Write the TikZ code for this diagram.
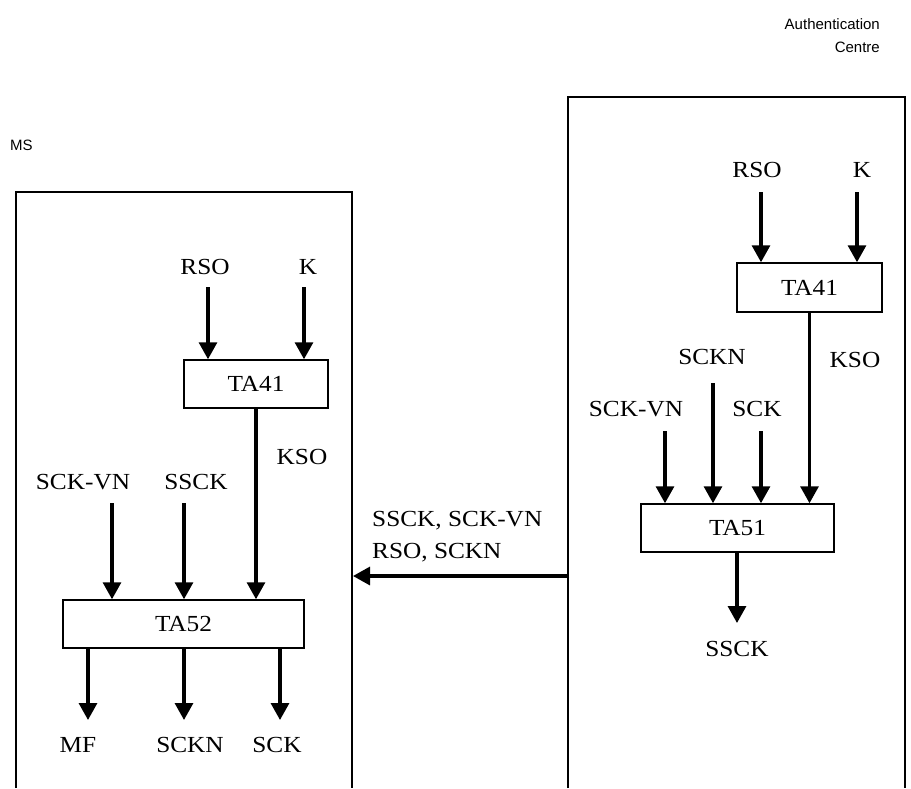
\documentclass[tikz,border=0pt]{standalone}
\usepackage{fontspec}
\usetikzlibrary{arrows.meta}
\newfontfamily\labserif[FakeStretch=1.1]{Liberation Serif}
\newfontfamily\labsans{Liberation Sans}
\tikzset{
  lab/.style={font=\labserif\fontsize{23}{32}\selectfont, inner sep=0pt},
  sanslabel/.style={font=\labsans\fontsize{15}{23}\selectfont, inner sep=0pt},
  fnbox/.style={draw, line width=1.5pt, fill=white, font=\labserif\fontsize{23}{32}\selectfont, inner sep=0pt},
  arr/.style={line width=3.2pt, -{Triangle[width=18pt,length=17pt]}},
  frameline/.style={line width=1.5pt}
}
\begin{document}
\begin{tikzpicture}[x=1pt,y=-1pt]
\useasboundingbox[fill=white] (0,0) rectangle (911,788);
% containers
\draw[frameline] (16,788) -- (16,192) -- (352,192) -- (352,788);
\draw[frameline] (568,788) -- (568,97) -- (905,97) -- (905,788);
\node[sanslabel, anchor=west] (ms) at (10,145) {MS};
\node[sanslabel, anchor=east, align=right] (ac) at (880,35.5) {Authentication\\Centre};
% ---- MS side ----
\node[lab] (rsoA) at (205,267) {RSO};
\node[lab] (kA) at (308,267) {K};
\coordinate (rsoAs) at (208,287);
\coordinate (kAs) at (304,287);
\node[fnbox, minimum width=144pt, minimum height=48pt] (ta41A) at (256,384) {TA41};
\node[lab] (ksoA) at (302,457) {KSO};
\node[lab] (sckvnA) at (83,482) {SCK-VN};
\node[lab] (ssckA) at (196,482) {SSCK};
\coordinate (sckvnAs) at (112,503);
\coordinate (ssckAs) at (184,503);
\node[fnbox, minimum width=241pt, minimum height=48pt] (ta52) at (183.5,624) {TA52};
\coordinate (mfE) at (88,720);
\coordinate (scknE) at (184,720);
\coordinate (sckE) at (280,720);
\node[lab] (mf) at (78,745) {MF};
\node[lab] (scknA) at (190,745) {SCKN};
\node[lab] (sckA) at (277,745) {SCK};
\draw[arr] (rsoAs) -- (rsoAs |- ta41A.north);
\draw[arr] (kAs) -- (kAs |- ta41A.north);
\draw[arr] (ta41A.south) -- (ta41A.south |- ta52.north);
\draw[arr] (sckvnAs) -- (sckvnAs |- ta52.north);
\draw[arr] (ssckAs) -- (ssckAs |- ta52.north);
\draw[arr] (mfE |- ta52.south) -- (mfE);
\draw[arr] (scknE |- ta52.south) -- (scknE);
\draw[arr] (sckE |- ta52.south) -- (sckE);
% ---- transfer ----
\coordinate (acEdge) at (569,576);
\coordinate (msEdge) at (353,576);
\draw[arr] (acEdge) -- (msEdge);
\node[lab, anchor=west, align=left] (xfer) at (372,537) {SSCK, SCK-VN\\RSO, SCKN};
% ---- AuC side ----
\node[lab] (rsoB) at (757,170) {RSO};
\node[lab] (kB) at (862,170) {K};
\coordinate (rsoBs) at (761,192);
\coordinate (kBs) at (857,192);
\node[fnbox, minimum width=145pt, minimum height=49pt] (ta41B) at (809.5,287.5) {TA41};
\node[lab] (scknB) at (712,357) {SCKN};
\node[lab] (ksoB) at (855,360) {KSO};
\node[lab] (sckvnB) at (636,409) {SCK-VN};
\node[lab] (sckB) at (757,409) {SCK};
\coordinate (sckvnBs) at (665,431);
\coordinate (scknBs) at (713,383);
\coordinate (sckBs) at (761,431);
\node[fnbox, minimum width=193pt, minimum height=48pt] (ta51) at (737.5,528) {TA51};
\coordinate (ssckBE) at (737,623);
\node[lab] (ssckB) at (737,649) {SSCK};
\draw[arr] (rsoBs) -- (rsoBs |- ta41B.north);
\draw[arr] (kBs) -- (kBs |- ta41B.north);
\draw[arr] (ta41B.south) -- (ta41B.south |- ta51.north);
\draw[arr] (sckvnBs) -- (sckvnBs |- ta51.north);
\draw[arr] (scknBs) -- (scknBs |- ta51.north);
\draw[arr] (sckBs) -- (sckBs |- ta51.north);
\draw[arr] (ssckBE |- ta51.south) -- (ssckBE);
\end{tikzpicture}
\end{document}
